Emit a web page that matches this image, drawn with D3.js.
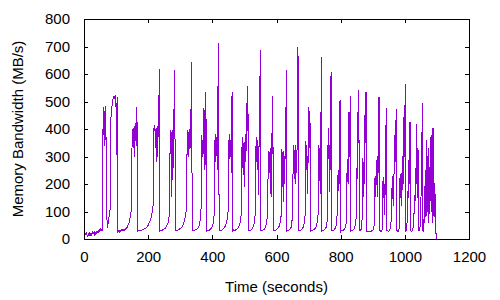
<!DOCTYPE html>
<html>
<head>
<meta charset="utf-8">
<script src="https://cdn.jsdelivr.net/npm/d3@7"></script>
<style>
  body { margin: 0; background: #fff; }
  text { font-family: "Liberation Sans", Arial, sans-serif; font-size: 15px; fill: #000; }
</style>
</head>
<body>
<svg id="chart" width="500" height="300"></svg>
<script>
const xTicks = [0, 200, 400, 600, 800, 1000, 1200]
const yTicks = [0, 100, 200, 300, 400, 500, 600, 700, 800]

// [time (s), bandwidth (MB/s)]
const warmup = [
  [0,15],[2,10],[4,18],[6,14],[8,20],[10,12],[12,8],[14,18],[16,14],[18,22],[20,16],[22,10],[24,20],[26,24],[28,18],
  [30,22],[32,16],[34,26],[36,20],[38,28],[40,22],[42,26],[44,30],[46,24],[48,32],[50,28],[52,36],[54,30],[56,34],[58,32]
]
const cycles = [
  [59,400],[60,380],[61,470],[62,480],[63,440],[64,340],[65,450],[66,480],[67,360],[68,482],[69,300],[70,263],[71,150],[72,40],
  [74,48],[76,62],[78,80],[80,100],[82,108],
  [83,410],[84,440],[86,470],[88,490],[89,500],[91,515],[93,520],[95,514],[97,522],[99,518],[100,470],[101,330],[102,495],[103,287],[104,517],[105,490],[106,27],
  [108,30],[110,26],[112,32],[114,28],[116,33],[118,30],[120,34],[122,31],[124,36],[126,33],[128,38],[130,36],[132,40],[134,42],[136,46],[138,52],[140,58],[142,66],[144,80],[146,96],[148,110],
  [149,260],[150,372],[151,350],[152,400],[153,330],[154,380],[155,345],[156,410],[157,360],[158,300],[159,390],[160,355],[161,420],[162,380],[163,465],[164,340],[165,480],[166,218],[167,28],
  [170,30],[174,32],[178,30],[182,34],[186,35],[190,38],[194,40],[198,46],[202,55],[206,66],[210,82],[214,105],[217,140],
  [218,400],[219,410],[220,395],[221,415],[222,360],[223,400],[224,330],[225,398],[226,280],[227,395],[228,410],[229,300],[230,405],[231,370],[232,500],[233,525],[234,390],[235,618],[236,30],
  [238,32],[242,30],[246,34],[250,36],[254,40],[258,48],[262,60],[265,80],[267,120],
  [268,300],[269,380],[270,335],[271,397],[272,350],[273,390],[274,154],[275,340],[276,396],[277,320],[278,380],[279,260],[280,472],[281,400],[282,505],[283,614],[284,240],[285,30],
  [287,33],[291,31],[295,35],[299,37],[303,40],[307,46],[311,58],[314,72],[317,90],[320,112],
  [321,300],[322,380],[323,335],[324,397],[325,340],[326,390],[327,300],[328,385],[329,345],[330,400],[331,330],[332,395],[333,472],[334,400],[335,470],[336,643],[337,30],
  [339,32],[343,30],[347,34],[351,36],[355,40],[359,50],[362,69],[365,112],
  [367,378],[368,320],[369,300],[370,360],[371,310],[372,380],[373,345],[374,476],[375,330],[376,378],[377,250],[378,360],[379,495],[380,535],[381,200],[382,30],
  [384,33],[388,30],[392,34],[396,38],[400,45],[403,60],[405,80],[407,120],
  [408,360],[409,300],[410,380],[411,280],[412,360],[413,330],[414,370],[415,250],[416,350],[417,555],[418,380],[419,555],[420,712],[421,30],
  [423,32],[427,30],[431,34],[435,38],[439,44],[443,56],[446,72],[449,100],[451,130],
  [452,365],[453,320],[454,380],[455,290],[456,360],[457,300],[458,350],[459,240],[460,380],[461,520],[462,360],[463,535],[464,30],
  [466,33],[470,31],[474,34],[478,38],[482,44],[486,56],[489,75],[491,110],
  [492,335],[493,300],[494,370],[495,260],[496,330],[497,290],[498,350],[499,190],[500,340],[501,300],[502,360],[503,280],[504,380],[505,320],[506,495],[507,410],[508,380],[509,495],[510,420],[511,555],[512,30],
  [513,32],[517,30],[521,34],[525,38],[529,50],[532,70],[535,110],
  [536,338],[537,300],[538,370],[539,280],[540,360],[541,250],[542,340],[543,160],[544,330],[545,290],[546,380],[547,575],[548,420],[549,687],[550,30],
  [552,32],[556,30],[560,34],[564,38],[567,50],[570,68],[573,90],
  [574,318],[575,280],[576,320],[577,240],[578,310],[579,260],[580,330],[581,230],[582,300],[583,154],[584,290],[585,385],[586,300],[587,520],[588,390],[589,370],[590,30],
  [592,32],[596,30],[600,34],[604,38],[608,46],[611,60],[614,81],[616,110],
  [617,326],[618,260],[619,300],[620,210],[621,136],[622,280],[623,320],[624,200],[625,300],[626,250],[627,330],[628,290],[629,480],[630,400],[631,615],[632,30],
  [633,32],[637,30],[641,34],[645,40],[648,60],[650,100],[651,136],
  [652,342],[653,300],[654,330],[655,220],[656,310],[657,270],[658,340],[659,200],[660,300],[661,260],[662,320],[663,240],[664,330],[665,536],[666,400],[667,699],[668,30],
  [669,33],[673,30],[677,34],[681,38],[685,48],[688,68],[690,100],
  [691,356],[692,300],[693,340],[694,250],[695,320],[696,165],[697,300],[698,260],[699,340],[700,280],[701,481],[702,350],[703,465],[704,330],[705,420],[706,160],[707,30],
  [708,32],[712,30],[716,34],[720,38],[724,46],[727,62],[730,95],
  [731,342],[732,290],[733,330],[734,210],[735,300],[736,260],[737,165],[738,320],[739,509],[740,663],[741,30],
  [742,32],[746,30],[750,34],[754,40],[757,55],[759,90],
  [760,342],[761,290],[762,405],[763,300],[764,342],[765,172],[766,310],[767,250],[768,408],[769,330],[770,608],[771,30],
  [772,32],[776,30],[780,34],[784,40],[787,55],[789,90],
  [790,233],[791,190],[792,240],[793,175],[794,250],[795,200],[796,451],[797,300],[798,505],[799,440],[800,250],[801,30],
  [802,32],[806,30],[810,34],[814,40],[817,55],[819,80],
  [820,281],[821,220],[822,290],[823,200],[824,270],[825,240],[826,463],[827,300],[828,433],[829,360],[830,520],[831,30],
  [832,32],[836,30],[840,34],[844,42],[847,60],[850,100],
  [851,263],[852,300],[853,220],[854,455],[855,542],[856,350],[857,421],[858,30],
  [859,32],[862,30],[865,40],[867,80],
  [868,154],[869,294],[870,250],[871,154],[872,280],[873,230],[874,300],[875,200],[876,481],[877,350],[878,430],[879,535],[880,30],
  [881,28],[885,26],[889,28],[893,27],[897,30],[900,32],[903,38],[905,60],
  [906,222],[907,180],[908,200],[909,154],[910,230],[911,196],[912,287],[913,200],[914,260],[915,154],[916,300],[917,240],[918,330],[919,516],[920,400],[921,517],[922,30],
  [923,30],[926,28],[929,34],[931,60],
  [932,215],[933,170],[934,224],[935,150],[936,200],[937,87],[938,190],[939,230],[940,160],[941,415],[942,300],[943,476],[944,30],
  [945,30],[949,28],[953,32],[956,45],[958,80],
  [959,185],[960,140],[961,200],[962,160],[963,230],[964,120],[965,210],[966,180],[967,378],[968,250],[969,300],[970,433],[971,280],[972,350],[973,473],[974,30],
  [975,30],[979,28],[982,36],[984,70],
  [985,227],[986,170],[987,236],[988,150],[989,215],[990,120],[991,240],[992,180],[993,210],[994,300],[995,200],[996,260],[997,445],[998,300],[999,487],[1000,380],[1001,564],[1002,30],
  [1003,28],[1005,32],[1007,60],
  [1008,136],[1009,100],[1010,180],[1011,215],[1012,150],[1013,281],[1014,425],[1015,200],[1016,300],[1017,427],[1018,30],
  [1019,30],[1022,28],[1025,34],[1028,60],
  [1029,117],[1030,90],[1031,160],[1032,140],[1033,215],[1034,180],[1035,272],[1036,418],[1037,200],[1038,250],[1039,150],[1040,280],[1041,330],[1042,200],[1043,30],
  [1044,30],[1046,32],[1048,50],
  [1049,154],[1050,120],[1051,200],[1052,160],[1053,250],[1054,495],[1055,200],[1056,30]
]
const tail = [
  [1057,28],[1059,40],[1061,120],[1062,60],[1063,200],[1064,100],[1065,250],[1066,80],[1067,220],[1068,360],[1069,150],[1070,300],
  [1071,100],[1072,230],[1073,60],[1074,190],[1075,331],[1076,120],[1077,260],[1078,90],[1079,200],[1080,140],[1081,360],[1082,378],
  [1083,100],[1084,220],[1085,60],[1086,180],[1087,403],[1088,150],[1089,404],[1090,204],[1091,80],[1092,204],[1093,100],[1094,170],
  [1095,60],[1096,130],[1097,20],[1098,20],[1099,0]
]
const samples = warmup.concat(cycles, tail)

const W = 500, H = 300
const MARGIN = { top: 19, right: 31, bottom: 61, left: 84 }
const cW = W - MARGIN.left - MARGIN.right
const cH = H - MARGIN.top - MARGIN.bottom
const TICK = 4

const svg = d3.select('#chart')
svg.append('rect').attr('width', W).attr('height', H).attr('fill', '#fff')

const g = svg.append('g').attr('transform', `translate(${MARGIN.left},${MARGIN.top})`)

const x = d3.scaleLinear().domain([0, 1200]).range([0, cW])
const y = d3.scaleLinear().domain([0, 800]).range([cH, 0])

svg.append('defs').append('clipPath').attr('id', 'clip')
  .append('rect').attr('x', 0).attr('y', -1).attr('width', cW).attr('height', cH + 1)

// data line, aliased like a gnuplot png
g.append('path')
  .datum(samples)
  .attr('clip-path', 'url(#clip)')
  .attr('fill', 'none')
  .attr('stroke', '#9400d3')
  .attr('stroke-width', 1)
  .attr('shape-rendering', 'crispEdges')
  .attr('d', d3.line().x(d => x(d[0])).y(d => y(d[1])))

// axes, ticks pointing inward like gnuplot
const styleAxis = sel => {
  sel.select('.domain').remove()
  sel.selectAll('.tick line').attr('stroke', '#000').attr('shape-rendering', 'crispEdges')
  sel.selectAll('.tick text').attr('font-size', 15).attr('font-family', '"Liberation Sans", Arial, sans-serif').attr('fill', '#000')
}

g.append('g').attr('transform', `translate(0,${cH})`)
  .call(d3.axisBottom(x).tickValues(xTicks).tickSize(-TICK).tickPadding(12).tickFormat(d3.format('d')))
  .call(styleAxis)
g.append('g')
  .call(d3.axisLeft(y).tickValues(yTicks).tickSize(-TICK).tickPadding(14).tickFormat(d3.format('d')))
  .call(styleAxis)
g.append('g')
  .call(d3.axisTop(x).tickValues(xTicks).tickSize(-TICK).tickFormat(''))
  .call(styleAxis)
g.append('g').attr('transform', `translate(${cW},0)`)
  .call(d3.axisRight(y).tickValues(yTicks).tickSize(-TICK).tickFormat(''))
  .call(styleAxis)

// frame
g.append('rect')
  .attr('x', 0.5).attr('y', 0.5)
  .attr('width', cW).attr('height', cH)
  .attr('fill', 'none').attr('stroke', '#000').attr('stroke-width', 1)
  .attr('shape-rendering', 'crispEdges')

// labels
svg.append('text')
  .attr('x', MARGIN.left + cW / 2).attr('y', 292)
  .attr('text-anchor', 'middle')
  .text('Time (seconds)')
svg.append('text')
  .attr('transform', `translate(23,${MARGIN.top + cH / 2}) rotate(-90)`)
  .attr('text-anchor', 'middle')
  .text('Memory Bandwidth (MB/s)')
</script>
</body>
</html>
